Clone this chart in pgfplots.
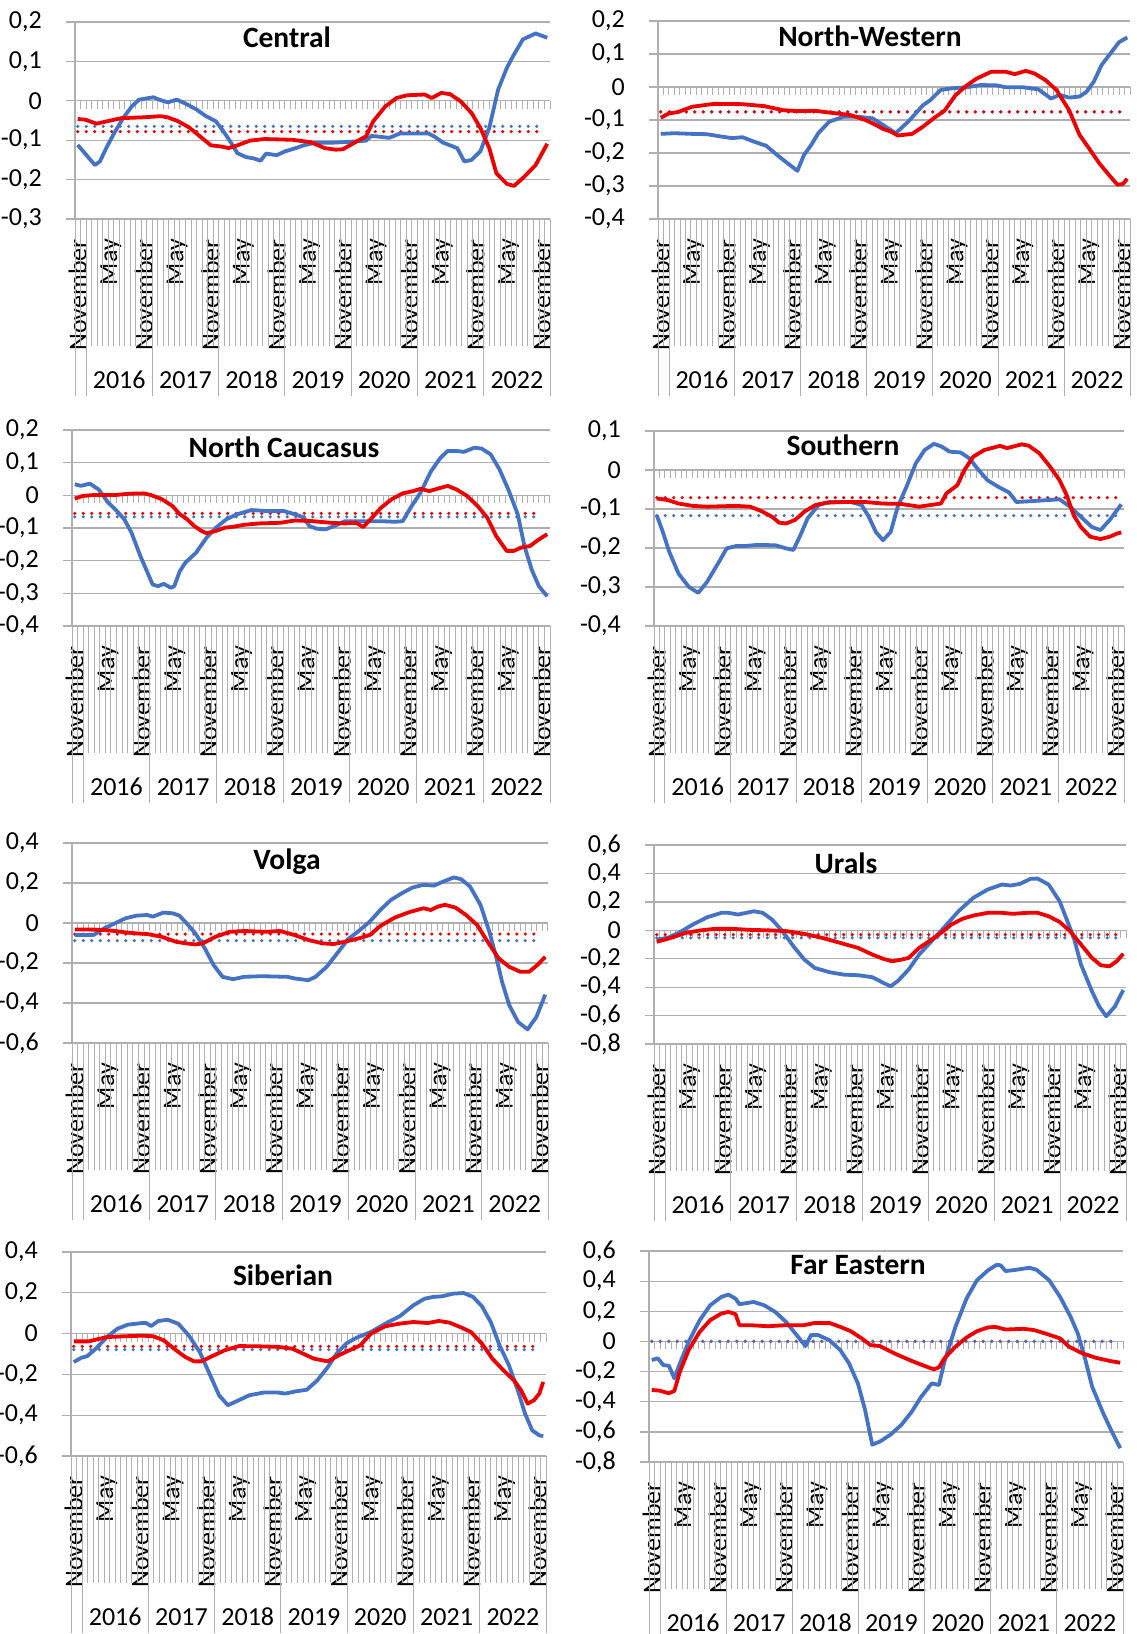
\documentclass[border=0pt]{standalone}
\usepackage{fontspec}
\setmainfont{Carlito}
\usepackage{pgfplots}
\pgfplotsset{compat=1.18}
\definecolor{gridc}{RGB}{175,175,175}
\definecolor{lblue}{RGB}{68,114,196}
\definecolor{lred}{RGB}{238,0,0}
\newcommand\lab{\fontsize{26}{31}\selectfont}
\newcommand\ttl{\bfseries\fontsize{29.5}{35}\selectfont}
\pgfplotsset{
 panel/.style={
  scale only axis, clip=false, no markers,
  xmin=0, xmax=86,
  axis x line*=bottom, axis y line*=left,
  x axis line style={draw=none},
  y axis line style={draw=gridc, line width=1.3pt},
  xtick={0.5,6.5,12.5,18.5,24.5,30.5,36.5,42.5,48.5,54.5,60.5,66.5,72.5,78.5,84.5},
  xticklabels={November,May,November,May,November,May,November,May,November,May,November,May,November,May,November},
  x tick style={draw=none},
  xticklabel style={rotate=90, anchor=east, inner sep=0pt, font=\lab},
  xticklabel shift=11pt,
  ymajorgrids, grid style={draw=gridc, line width=1.3pt},
  y tick style={draw=gridc, line width=1.3pt},
  major tick length=18pt, tick align=center,
  yticklabel style={anchor=east, inner sep=0pt, font=\lab},
  yticklabel shift=24pt,
 },
 mean/.style={line width=3.5pt, dash pattern=on 0pt off 8.5pt, line cap=round},
 curve/.style={line width=3.8pt, line join=round},
}
\newcommand\decor[1]{%
 \draw[gridc,line width=1.3pt] (axis cs:0,0) -- (axis cs:86,0);
 \pgfplotsinvokeforeach{0,...,86}{%
   \draw[gridc,line width=1pt] (axis cs:##1,0) -- ++(0pt,-8pt);
   \draw[gridc,line width=0.9pt] (axis cs:##1,#1) -- ++(0pt,-127pt);}%
 \pgfplotsinvokeforeach{0,2,14,26,38,50,62,74,86}{%
   \draw[gridc,line width=0.9pt] (axis cs:##1,#1) -- ++(0pt,-177pt);}%
 \node[font=\lab,yshift=-161pt] at (axis cs:8,#1) {2016};
 \node[font=\lab,yshift=-161pt] at (axis cs:20,#1) {2017};
 \node[font=\lab,yshift=-161pt] at (axis cs:32,#1) {2018};
 \node[font=\lab,yshift=-161pt] at (axis cs:44,#1) {2019};
 \node[font=\lab,yshift=-161pt] at (axis cs:56,#1) {2020};
 \node[font=\lab,yshift=-161pt] at (axis cs:68,#1) {2021};
 \node[font=\lab,yshift=-161pt] at (axis cs:80,#1) {2022};
}
\begin{document}
\begin{tikzpicture}
\path[use as bounding box] (0pt,0pt) rectangle (1137pt,-1634pt);
% ---------------- Central
\begin{axis}[panel, at={(75pt,-219pt)}, anchor=south west, width=475pt, height=197pt,
 ymin=-0.3, ymax=0.2, ytick={-0.3,-0.2,-0.1,0,0.1,0.2}, yticklabels={{-0,3},{-0,2},{-0,1},0,{0,1},{0,2}}]
\decor{-0.3}
\addplot[lblue,mean] coordinates {(0.5,-0.065)(84.5,-0.065)};
\addplot[lred,mean] coordinates {(0.5,-0.078)(84.5,-0.078)};
\addplot[lblue,curve] coordinates {(0.5,-0.112)(3.6,-0.163)(4.5,-0.154)(5.8,-0.116)(7.1,-0.082)(8.7,-0.044)(10.3,-0.014)(11.6,0.003)(14.2,0.009)(15.2,0.003)(16.8,-0.004)(18.4,0.003)(20,-0.007)(22,-0.022)(23.6,-0.038)(25.5,-0.052)(26.8,-0.076)(28.1,-0.103)(29.4,-0.133)(31,-0.143)(32.3,-0.146)(33.6,-0.152)(34.6,-0.134)(36.5,-0.138)(38.1,-0.128)(40,-0.120)(41.4,-0.113)(43.3,-0.107)(47.2,-0.106)(51,-0.103)(52.7,-0.101)(53.7,-0.089)(56.9,-0.094)(58.8,-0.083)(64,-0.083)(65,-0.090)(66.6,-0.106)(69.2,-0.120)(70.5,-0.154)(71.8,-0.150)(73.4,-0.128)(75,-0.069)(76.6,0.028)(78.2,0.084)(79.5,0.118)(81.1,0.156)(83.4,0.171)(85.5,0.160)};
\addplot[lred,curve] coordinates {(0.5,-0.046)(1.9,-0.048)(3.9,-0.058)(5.8,-0.052)(8.4,-0.044)(12.3,-0.042)(15.5,-0.039)(16.8,-0.042)(18.7,-0.052)(20.7,-0.068)(22.6,-0.090)(24.6,-0.113)(26.5,-0.116)(27.8,-0.120)(29.4,-0.113)(31.7,-0.101)(34.3,-0.097)(39.4,-0.099)(42.7,-0.105)(45.2,-0.120)(47.2,-0.124)(48.5,-0.123)(51,-0.103)(52.7,-0.090)(54,-0.052)(56.2,-0.014)(58.2,0.007)(60.1,0.014)(63.3,0.016)(64.6,0.007)(66.3,0.020)(67.9,0.017)(69.8,-0.001)(71.8,-0.031)(73.4,-0.069)(75,-0.120)(76.3,-0.184)(78.2,-0.211)(79.5,-0.216)(81.4,-0.192)(83.4,-0.163)(85.5,-0.109)};
\end{axis}
% ---------------- North-Western
\begin{axis}[panel, at={(658pt,-219pt)}, anchor=south west, width=472pt, height=198pt,
 ymin=-0.4, ymax=0.2, ytick={-0.4,-0.3,-0.2,-0.1,0,0.1,0.2}, yticklabels={{-0,4},{-0,3},{-0,2},{-0,1},0,{0,1},{0,2}}]
\decor{-0.4}
\addplot[lblue,mean] coordinates {(0.5,-0.075)(84.5,-0.075)};
\addplot[lred,mean] coordinates {(0.5,-0.075)(84.5,-0.075)};
\addplot[lblue,curve] coordinates {(0.5,-0.142)(3,-0.140)(6.2,-0.142)(8.9,-0.143)(11.5,-0.150)(13.5,-0.155)(15.4,-0.152)(17.4,-0.165)(19.7,-0.178)(21.7,-0.206)(23.6,-0.231)(25.4,-0.254)(26.6,-0.206)(27.9,-0.176)(29.2,-0.140)(31.2,-0.105)(33.8,-0.090)(36.4,-0.090)(39.1,-0.095)(41,-0.115)(43.3,-0.140)(45.6,-0.105)(48.3,-0.055)(49.6,-0.040)(51.5,-0.009)(53.5,-0.004)(56.1,-0.001)(58.8,0.006)(61.7,0.005)(63.4,-0.001)(66.6,-0.001)(69.3,-0.007)(71.6,-0.035)(73.2,-0.024)(74.9,-0.032)(76.8,-0.029)(78.1,-0.014)(79.4,0.016)(80.8,0.066)(82.4,0.101)(84,0.136)(85.5,0.150)};
\addplot[lred,curve] coordinates {(0.5,-0.093)(2,-0.080)(3.6,-0.076)(6.2,-0.060)(10.2,-0.051)(15.4,-0.052)(19.4,-0.058)(22.7,-0.070)(25.3,-0.073)(28.6,-0.072)(32.5,-0.080)(35.1,-0.085)(37.8,-0.100)(39.7,-0.115)(41,-0.127)(42.4,-0.135)(43.7,-0.147)(46.3,-0.142)(48.3,-0.120)(50.2,-0.095)(52.2,-0.072)(54.2,-0.025)(56.1,0.003)(58.1,0.026)(60.7,0.046)(63.4,0.046)(65,0.039)(67,0.049)(68.6,0.041)(70.6,0.021)(72.6,-0.009)(74.9,-0.070)(76.8,-0.145)(78.5,-0.185)(80.4,-0.231)(82.4,-0.271)(83.7,-0.296)(84.7,-0.294)(85.5,-0.278)};
\end{axis}
% ---------------- North Caucasus
\begin{axis}[panel, at={(72pt,-626pt)}, anchor=south west, width=478pt, height=196pt,
 ymin=-0.4, ymax=0.2, ytick={-0.4,-0.3,-0.2,-0.1,0,0.1,0.2}, yticklabels={{-0,4},{-0,3},{-0,2},{-0,1},0,{0,1},{0,2}}]
\decor{-0.4}
\addplot[lblue,mean] coordinates {(0.5,-0.066)(84.5,-0.066)};
\addplot[lred,mean] coordinates {(0.5,-0.055)(84.5,-0.055)};
\addplot[lblue,curve] coordinates {(0.5,0.034)(1.6,0.029)(3.2,0.036)(4.8,0.018)(6.5,-0.022)(7.8,-0.043)(9.4,-0.073)(10.7,-0.114)(12.3,-0.186)(13.6,-0.237)(14.5,-0.273)(15.5,-0.278)(16.5,-0.271)(17.8,-0.283)(18.4,-0.278)(19.4,-0.232)(20.4,-0.206)(22.3,-0.176)(24.2,-0.130)(25.9,-0.099)(27.8,-0.073)(29.7,-0.058)(32.3,-0.045)(34.9,-0.048)(38.1,-0.048)(40.1,-0.058)(41.7,-0.068)(42.7,-0.094)(44,-0.102)(45.6,-0.104)(47.2,-0.094)(49.1,-0.079)(51.7,-0.079)(55.6,-0.079)(58.2,-0.081)(59.5,-0.079)(61.1,-0.033)(62.7,0.008)(64.6,0.074)(66.3,0.115)(67.6,0.136)(69.2,0.136)(70.5,0.133)(72.4,0.146)(73.7,0.143)(75.3,0.126)(76.9,0.080)(78.5,0.018)(80.2,-0.058)(81.4,-0.155)(82.7,-0.227)(84,-0.278)(85.5,-0.309)};
\addplot[lred,curve] coordinates {(0.5,-0.010)(1.9,-0.002)(3.9,0.001)(7.8,0.001)(10.3,0.005)(12.9,0.006)(14.2,0.001)(16.2,-0.012)(18.1,-0.033)(19.4,-0.058)(20.7,-0.073)(22,-0.094)(23.3,-0.109)(24.2,-0.116)(25.9,-0.109)(27.5,-0.099)(29.1,-0.096)(31,-0.090)(33.6,-0.086)(37.5,-0.084)(40.1,-0.077)(43.3,-0.079)(46.5,-0.084)(49.1,-0.086)(51.1,-0.084)(52.4,-0.097)(54,-0.068)(55.6,-0.038)(57.5,-0.012)(59.5,0.006)(61.4,0.013)(62.7,0.020)(64.3,0.013)(65.9,0.021)(67.6,0.029)(69.2,0.018)(71.1,-0.002)(73,-0.033)(74.7,-0.068)(76.3,-0.124)(78.2,-0.170)(79.5,-0.170)(80.8,-0.160)(82.4,-0.155)(84,-0.135)(85.5,-0.119)};
\end{axis}
% ---------------- Southern
\begin{axis}[panel, at={(654pt,-626pt)}, anchor=south west, width=470pt, height=195pt,
 ymin=-0.4, ymax=0.1, ytick={-0.4,-0.3,-0.2,-0.1,0,0.1}, yticklabels={{-0,4},{-0,3},{-0,2},{-0,1},0,{0,1}}]
\decor{-0.4}
\addplot[lblue,mean] coordinates {(0.5,-0.117)(84.5,-0.117)};
\addplot[lred,mean] coordinates {(0.5,-0.071)(84.5,-0.071)};
\addplot[lblue,curve] coordinates {(0.5,-0.116)(1.5,-0.154)(2.8,-0.210)(4.5,-0.266)(6.4,-0.300)(8.1,-0.315)(9.7,-0.287)(11.7,-0.240)(13.3,-0.201)(15,-0.195)(16.6,-0.195)(18.9,-0.192)(22.2,-0.193)(24.2,-0.201)(25.5,-0.205)(26.8,-0.167)(28.1,-0.124)(30.1,-0.090)(32.1,-0.082)(36,-0.082)(38,-0.090)(39.3,-0.120)(40.6,-0.159)(41.9,-0.180)(43.3,-0.159)(44.6,-0.094)(46.2,-0.043)(47.9,0.017)(49.5,0.051)(51.2,0.067)(52.5,0.061)(54.1,0.047)(56.1,0.045)(57.7,0.030)(59.4,0.000)(61,-0.026)(63,-0.043)(65,-0.058)(66.3,-0.082)(68.9,-0.080)(72.2,-0.077)(74.2,-0.075)(76.1,-0.094)(78.1,-0.120)(80.1,-0.146)(81.7,-0.154)(83.4,-0.128)(85.5,-0.088)};
\addplot[lred,curve] coordinates {(0.5,-0.073)(2.5,-0.077)(4.5,-0.086)(7.1,-0.092)(9.7,-0.094)(15,-0.092)(17.6,-0.094)(19.6,-0.105)(21.6,-0.120)(22.9,-0.135)(24.2,-0.137)(25.8,-0.128)(27.5,-0.107)(29.5,-0.090)(31.4,-0.084)(34.7,-0.082)(38.7,-0.082)(41.9,-0.086)(45.2,-0.087)(48.5,-0.094)(50.5,-0.090)(52.5,-0.086)(53.5,-0.060)(55.5,-0.039)(56.8,0.000)(58.4,0.034)(60.4,0.051)(63.3,0.062)(64.6,0.056)(67.3,0.066)(68.6,0.062)(70.5,0.043)(72.5,0.008)(74.2,-0.026)(75.5,-0.064)(76.8,-0.116)(78.1,-0.146)(79.8,-0.171)(81.7,-0.177)(83.4,-0.171)(84.7,-0.163)(85.5,-0.160)};
\end{axis}
% ---------------- Volga
\begin{axis}[panel, at={(72pt,-1043pt)}, anchor=south west, width=476pt, height=200pt,
 ymin=-0.6, ymax=0.4, ytick={-0.6,-0.4,-0.2,0,0.2,0.4}, yticklabels={{-0,6},{-0,4},{-0,2},0,{0,2},{0,4}}]
\decor{-0.6}
\addplot[lblue,mean] coordinates {(0.5,-0.088)(84.5,-0.088)};
\addplot[lred,mean] coordinates {(0.5,-0.055)(84.5,-0.055)};
\addplot[lblue,curve] coordinates {(0.5,-0.060)(3.9,-0.060)(5.8,-0.027)(7.8,-0.001)(9.7,0.024)(11.7,0.037)(13.6,0.040)(14.6,0.032)(16.5,0.052)(18.1,0.049)(19.4,0.037)(20.7,-0.001)(22.3,-0.052)(24,-0.127)(25.6,-0.211)(27.2,-0.269)(29.1,-0.281)(31.1,-0.269)(34.3,-0.266)(38.9,-0.269)(40.2,-0.277)(42.7,-0.286)(44,-0.269)(46,-0.219)(47.9,-0.152)(49.9,-0.080)(51.8,-0.040)(53.8,0.007)(55.7,0.065)(57.6,0.115)(59.6,0.149)(61.5,0.177)(63.5,0.191)(65.4,0.187)(67.4,0.211)(69,0.228)(70.3,0.219)(71.9,0.183)(73.8,0.091)(75.4,-0.043)(76.7,-0.177)(77.7,-0.294)(79,-0.411)(80.6,-0.495)(82.3,-0.532)(83.9,-0.470)(85.5,-0.358)};
\addplot[lred,curve] coordinates {(0.5,-0.032)(2.6,-0.032)(5.8,-0.035)(7.8,-0.040)(9.7,-0.047)(11.7,-0.052)(13.6,-0.055)(16.2,-0.069)(18.8,-0.094)(20.7,-0.102)(22.3,-0.107)(23.6,-0.102)(25.9,-0.069)(28.5,-0.044)(31.1,-0.040)(35,-0.044)(37.6,-0.040)(40.2,-0.060)(42.7,-0.085)(45.3,-0.102)(47.3,-0.105)(49.2,-0.094)(51.8,-0.077)(53.8,-0.060)(55.7,-0.015)(58.3,0.027)(60.9,0.054)(63.5,0.074)(64.8,0.065)(66.1,0.082)(67.4,0.091)(69.3,0.077)(71.2,0.040)(73.2,-0.010)(75.1,-0.094)(77.1,-0.177)(79,-0.219)(81,-0.244)(82.6,-0.244)(84.2,-0.207)(85.5,-0.169)};
\end{axis}
% ---------------- Urals
\begin{axis}[panel, at={(654pt,-1044pt)}, anchor=south west, width=472pt, height=199pt,
 ymin=-0.8, ymax=0.6, ytick={-0.8,-0.6,-0.4,-0.2,0,0.2,0.4,0.6}, yticklabels={{-0,8},{-0,6},{-0,4},{-0,2},0,{0,2},{0,4},{0,6}}]
\decor{-0.8}
\addplot[lblue,mean] coordinates {(0.5,-0.053)(84.5,-0.053)};
\addplot[lred,mean] coordinates {(0.5,-0.030)(84.5,-0.030)};
\addplot[lblue,curve] coordinates {(0.5,-0.065)(2.5,-0.053)(4.5,-0.018)(7.1,0.041)(9.7,0.092)(12.3,0.123)(13.6,0.123)(15.3,0.111)(18.2,0.134)(19.8,0.123)(21.5,0.076)(23.4,-0.006)(25.4,-0.112)(27.4,-0.206)(29.3,-0.265)(32,-0.295)(34.6,-0.312)(37.2,-0.316)(39.8,-0.330)(41.8,-0.370)(43.1,-0.394)(44.4,-0.358)(46.4,-0.276)(48.3,-0.171)(50.3,-0.088)(52.9,0.022)(55.5,0.135)(58.2,0.229)(60.8,0.287)(63.4,0.322)(65,0.315)(66.7,0.327)(68.6,0.362)(69.9,0.364)(71.9,0.322)(73.9,0.205)(75.2,0.076)(76.5,-0.053)(77.8,-0.241)(79.8,-0.429)(81.1,-0.535)(82.4,-0.605)(84,-0.535)(85.5,-0.420)};
\addplot[lred,curve] coordinates {(0.5,-0.081)(2.5,-0.060)(5.8,-0.018)(8.4,-0.001)(11,0.010)(14.3,0.010)(17.6,0.003)(21.5,-0.001)(24.1,-0.006)(27.4,-0.025)(30.6,-0.053)(33.9,-0.088)(37.2,-0.124)(39.8,-0.171)(41.8,-0.201)(43.4,-0.218)(45.1,-0.206)(46.4,-0.194)(48.3,-0.124)(50.3,-0.072)(52.3,-0.018)(54.2,0.041)(56.2,0.081)(58.2,0.104)(60.8,0.123)(63.4,0.123)(65.4,0.116)(68,0.123)(69.9,0.123)(71.9,0.099)(73.9,0.059)(75.8,-0.006)(77.8,-0.100)(79.8,-0.194)(81.4,-0.246)(83,-0.253)(84.3,-0.218)(85.5,-0.165)};
\end{axis}
% ---------------- Siberian
\begin{axis}[panel, at={(71pt,-1456pt)}, anchor=south west, width=475pt, height=204pt,
 ymin=-0.6, ymax=0.4, ytick={-0.6,-0.4,-0.2,0,0.2,0.4}, yticklabels={{-0,6},{-0,4},{-0,2},0,{0,2},{0,4}}]
\decor{-0.6}
\addplot[lblue,mean] coordinates {(0.5,-0.078)(84.5,-0.078)};
\addplot[lred,mean] coordinates {(0.5,-0.062)(84.5,-0.062)};
\addplot[lblue,curve] coordinates {(0.5,-0.139)(1.9,-0.118)(2.9,-0.111)(4.5,-0.074)(6.5,-0.017)(8.4,0.024)(10.3,0.044)(12.9,0.052)(13.6,0.052)(14.5,0.037)(15.8,0.062)(17.5,0.068)(19.4,0.049)(21.3,-0.008)(23.3,-0.090)(25.2,-0.204)(26.8,-0.302)(28.4,-0.351)(30.1,-0.330)(32.3,-0.302)(34.9,-0.289)(37.5,-0.289)(38.8,-0.294)(40.7,-0.283)(42.7,-0.275)(44.6,-0.229)(46.5,-0.164)(48.1,-0.098)(49.8,-0.049)(51.7,-0.020)(54.3,0.008)(56.9,0.049)(59.5,0.085)(62,0.139)(64,0.171)(65.6,0.180)(67.2,0.183)(69.2,0.196)(71.1,0.199)(72.8,0.180)(74.4,0.134)(76,0.057)(77.6,-0.058)(79.3,-0.156)(80.9,-0.278)(82.2,-0.392)(83.5,-0.474)(84.8,-0.499)(85.5,-0.502)};
\addplot[lred,curve] coordinates {(0.5,-0.038)(3.2,-0.038)(5.2,-0.025)(6.5,-0.017)(9.7,-0.013)(12.9,-0.010)(14.9,-0.013)(16.8,-0.033)(18.8,-0.077)(20.7,-0.115)(22.3,-0.136)(23.6,-0.136)(25.9,-0.106)(27.8,-0.082)(30.4,-0.061)(33.6,-0.062)(37.5,-0.065)(40.1,-0.074)(42,-0.098)(44,-0.123)(46.5,-0.136)(48.5,-0.106)(50.4,-0.082)(52.4,-0.057)(54.3,0.000)(56.9,0.036)(59.5,0.049)(62,0.057)(64.6,0.052)(66.6,0.062)(68.5,0.054)(70.5,0.032)(72.4,0.008)(74.4,-0.049)(76.3,-0.123)(78.3,-0.180)(80.2,-0.229)(81.5,-0.278)(82.7,-0.343)(83.8,-0.327)(84.8,-0.294)(85.5,-0.237)};
\end{axis}
% ---------------- Far Eastern
\begin{axis}[panel, at={(649pt,-1462pt)}, anchor=south west, width=474pt, height=211pt,
 ymin=-0.8, ymax=0.6, ytick={-0.8,-0.6,-0.4,-0.2,0,0.2,0.4,0.6}, yticklabels={{-0,8},{-0,6},{-0,4},{-0,2},0,{0,2},{0,4},{0,6}}]
\decor{-0.8}
\addplot[lred,mean] coordinates {(0.5,0)(84.5,0)};
\addplot[lblue,mean] coordinates {(0.5,0)(84.5,0)};
\addplot[lblue,curve] coordinates {(0.5,-0.123)(1.6,-0.112)(2.6,-0.157)(3.6,-0.161)(4.6,-0.245)(5.6,-0.146)(7.2,-0.002)(9.2,0.141)(11.1,0.240)(13.1,0.295)(14.4,0.311)(15.7,0.284)(16.4,0.247)(19,0.262)(20.9,0.240)(22.9,0.196)(24.85,0.130)(26.8,0.042)(28.4,-0.031)(29.4,0.042)(30.7,0.042)(32.7,0.009)(34.7,-0.057)(36.3,-0.146)(37.9,-0.278)(39.2,-0.454)(40.5,-0.685)(41.9,-0.664)(43.8,-0.619)(45.8,-0.553)(47.7,-0.465)(49.4,-0.366)(51.3,-0.278)(52.6,-0.289)(53.6,-0.134)(55.6,0.097)(57.6,0.284)(59.5,0.406)(61.5,0.472)(63.1,0.509)(63.8,0.505)(64.7,0.467)(66.7,0.476)(69,0.489)(70.3,0.476)(72.6,0.406)(74.6,0.295)(76.5,0.163)(77.8,0.053)(79.1,-0.112)(80.4,-0.300)(82.4,-0.476)(84.1,-0.608)(85.5,-0.708)};
\addplot[lred,curve] coordinates {(0.5,-0.322)(1.9,-0.326)(3.6,-0.344)(4.6,-0.328)(5.6,-0.201)(7.2,-0.057)(9.2,0.064)(11.1,0.141)(13.1,0.185)(14.4,0.196)(15.7,0.181)(16.4,0.108)(18.3,0.108)(21.6,0.101)(24.8,0.108)(28.1,0.108)(30.1,0.123)(32.7,0.123)(34.7,0.097)(36.6,0.068)(38.6,0.020)(40.2,-0.024)(41.9,-0.031)(44.5,-0.079)(47.7,-0.130)(50.4,-0.168)(51.7,-0.185)(52.6,-0.172)(53.6,-0.112)(55.6,-0.035)(57.6,0.026)(59.5,0.068)(61.5,0.093)(62.8,0.097)(64.7,0.079)(68,0.084)(69.9,0.075)(71.9,0.053)(74.6,0.020)(76.2,-0.035)(78.4,-0.075)(81,-0.108)(83.7,-0.130)(85.5,-0.141)};
\end{axis}
% ---------------- titles
\node[font=\ttl] at (287pt,-37pt) {Central};
\node[font=\ttl] at (870pt,-36pt) {North-Western};
\node[font=\ttl] at (284pt,-447pt) {North Caucasus};
\node[font=\ttl] at (843pt,-445pt) {Southern};
\node[font=\ttl] at (287pt,-862pt) {Volga};
\node[font=\ttl] at (846pt,-863pt) {Urals};
\node[font=\ttl] at (283pt,-1275pt) {Siberian};
\node[font=\ttl] at (858pt,-1265pt) {Far Eastern};
\end{tikzpicture}
\end{document}
